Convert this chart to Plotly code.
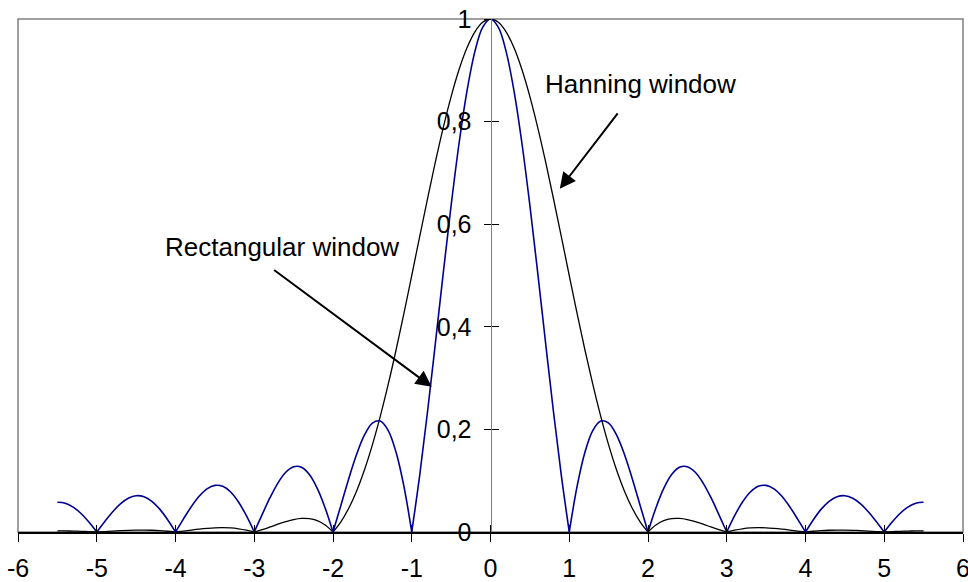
import numpy as np
import plotly.graph_objects as go

# Normalised frequency (bins), sampled every 0.1 from -5.5 to 5.5
freq = np.round(np.linspace(-5.5, 5.5, 111), 1)

# |W(f)| of the rectangular window
rectangular = [
    0.0579, 0.0561, 0.0486, 0.0360, 0.0193, 0, 0.0201, 0.0390, 0.0548, 0.0658,
    0.0707, 0.0688, 0.0599, 0.0446, 0.0240, 0, 0.0252, 0.0492, 0.0696, 0.0841,
    0.0909, 0.0890, 0.0780, 0.0585, 0.0317, 0, 0.0339, 0.0668, 0.0954, 0.1164,
    0.1273, 0.1261, 0.1120, 0.0850, 0.0468, 0, 0.0518, 0.1039, 0.1515, 0.1892,
    0.2122, 0.2162, 0.1981, 0.1559, 0.0894, 0, 0.1093, 0.2339, 0.3679, 0.5046,
    0.6366, 0.7568, 0.8584, 0.9355, 0.9836, 1, 0.9836, 0.9355, 0.8584, 0.7568,
    0.6366, 0.5046, 0.3679, 0.2339, 0.1093, 0, 0.0894, 0.1559, 0.1981, 0.2162,
    0.2122, 0.1892, 0.1515, 0.1039, 0.0518, 0, 0.0468, 0.0850, 0.1120, 0.1261,
    0.1273, 0.1164, 0.0954, 0.0668, 0.0339, 0, 0.0317, 0.0585, 0.0780, 0.0890,
    0.0909, 0.0841, 0.0696, 0.0492, 0.0252, 0, 0.0240, 0.0446, 0.0599, 0.0688,
    0.0707, 0.0658, 0.0548, 0.0390, 0.0201, 0, 0.0193, 0.0360, 0.0486, 0.0561,
    0.0579,
]

# |W(f)| of the Hanning window
hanning = [
    0.0020, 0.0020, 0.0018, 0.0014, 0.0008, 0, 0.0009, 0.0018, 0.0026, 0.0033,
    0.0037, 0.0038, 0.0034, 0.0027, 0.0015, 0, 0.0018, 0.0037, 0.0055, 0.0070,
    0.0081, 0.0084, 0.0079, 0.0063, 0.0037, 0, 0.0046, 0.0098, 0.0152, 0.0202,
    0.0243, 0.0265, 0.0261, 0.0221, 0.0137, 0, 0.0198, 0.0464, 0.0801, 0.1213,
    0.1698, 0.2253, 0.2871, 0.3543, 0.4258, 0.5, 0.5752, 0.6496, 0.7213, 0.7884,
    0.8488, 0.9010, 0.9433, 0.9745, 0.9936, 1, 0.9936, 0.9745, 0.9433, 0.9010,
    0.8488, 0.7884, 0.7213, 0.6496, 0.5752, 0.5, 0.4258, 0.3543, 0.2871, 0.2253,
    0.1698, 0.1213, 0.0801, 0.0464, 0.0198, 0, 0.0137, 0.0221, 0.0261, 0.0265,
    0.0243, 0.0202, 0.0152, 0.0098, 0.0046, 0, 0.0037, 0.0063, 0.0079, 0.0084,
    0.0081, 0.0070, 0.0055, 0.0037, 0.0018, 0, 0.0015, 0.0027, 0.0034, 0.0038,
    0.0037, 0.0033, 0.0026, 0.0018, 0.0009, 0, 0.0008, 0.0014, 0.0018, 0.0020,
    0.0020,
]

x_ticks = [-6, -5, -4, -3, -2, -1, 0, 1, 2, 3, 4, 5, 6]
x_tick_text = ["-6", "-5", "-4", "-3", "-2", "-1", "0", "1", "2", "3", "4", "5", "6"]
y_ticks = [0, 0.2, 0.4, 0.6, 0.8, 1]
y_tick_text = ["0", "0,2", "0,4", "0,6", "0,8", "1"]

FONT = "Arial, Liberation Sans, sans-serif"
TICK_FONT = dict(family=FONT, size=25, color="black")


def split_lobes(xs, ys):
    """Break a magnitude curve at its nulls so each lobe is smoothed on its
    own and the nulls stay sharp cusps (the null sample is shared)."""
    out_x, out_y = [], []
    start = 0
    for i, v in enumerate(ys):
        if v == 0 and i > start:
            out_x += list(xs[start:i + 1]) + [None]
            out_y += list(ys[start:i + 1]) + [None]
            start = i
    out_x += list(xs[start:])
    out_y += list(ys[start:])
    return out_x, out_y


hx, hy = split_lobes(freq, hanning)
rx, ry = split_lobes(freq, rectangular)

fig = go.Figure()
fig.add_trace(go.Scatter(x=hx, y=hy, mode="lines", name="Hanning window",
                         connectgaps=False,
                         line=dict(color="black", width=1.3, shape="spline", smoothing=1)))
fig.add_trace(go.Scatter(x=rx, y=ry, mode="lines", name="Rectangular window",
                         connectgaps=False,
                         line=dict(color="#000090", width=1.6, shape="spline", smoothing=1)))
# empty trace so the overlay axes (inner half of the crossing ticks) get drawn
fig.add_trace(go.Scatter(x=[], y=[], xaxis="x2", yaxis="y2", showlegend=False))

fig.update_layout(
    width=968, height=582,
    margin=dict(l=18, r=5, t=19, b=50, autoexpand=False),
    paper_bgcolor="white", plot_bgcolor="white",
    showlegend=False,
    font=dict(family=FONT, size=25, color="black"),
    xaxis=dict(range=[-6, 6], anchor="y", tickvals=x_ticks, ticktext=x_tick_text,
               ticks="outside", ticklen=8, tickwidth=1, tickcolor="black",
               showline=True, linecolor="black", linewidth=1.5,
               showgrid=False, zeroline=False, tickfont=TICK_FONT,
               ticklabelstandoff=5, automargin=False, ticklabeloverflow="allow"),
    xaxis2=dict(range=[-6, 6], overlaying="x", anchor="y2", side="bottom",
                tickvals=x_ticks, ticks="inside", ticklen=7, tickwidth=1,
                tickcolor="black", showticklabels=False, showline=False,
                showgrid=False, zeroline=False, automargin=False),
    yaxis=dict(range=[0, 1], anchor="free", position=0.5, side="left",
               tickvals=y_ticks, ticktext=y_tick_text,
               ticks="outside", ticklen=7, tickwidth=1, tickcolor="black",
               showline=True, linecolor="#808080", linewidth=1,
               showgrid=False, zeroline=False, tickfont=TICK_FONT,
               ticklabelstandoff=7, automargin=False, ticklabeloverflow="allow"),
    yaxis2=dict(range=[0, 1], overlaying="y", anchor="free", position=0.5,
                side="left", tickvals=y_ticks, ticks="inside", ticklen=7,
                tickwidth=1, tickcolor="black", showticklabels=False,
                showline=False, showgrid=False, zeroline=False, automargin=False),
    shapes=[dict(type="rect", xref="paper", yref="paper", x0=0, x1=1, y0=0, y1=1,
                 line=dict(color="#808080", width=1.5), layer="below")],
)

ann_font = dict(family=FONT, size=26, color="black")
fig.add_annotation(x=1.91, y=0.873, xref="x", yref="y", text="Hanning window",
                   showarrow=False, font=ann_font)
fig.add_annotation(x=-2.65, y=0.556, xref="x", yref="y", text="Rectangular window",
                   showarrow=False, font=ann_font)
fig.add_annotation(x=0.88, y=0.669, ax=1.63, ay=0.819, xref="x", yref="y",
                   axref="x", ayref="y", text="", showarrow=True,
                   arrowhead=2, arrowsize=1.6, arrowwidth=2, arrowcolor="black",
                   standoff=0, startstandoff=0)
fig.add_annotation(x=-0.746, y=0.283, ax=-2.767, ay=0.513, xref="x", yref="y",
                   axref="x", ayref="y", text="", showarrow=True,
                   arrowhead=2, arrowsize=1.6, arrowwidth=2, arrowcolor="black",
                   standoff=0, startstandoff=0)

fig.write_html("out.html")
